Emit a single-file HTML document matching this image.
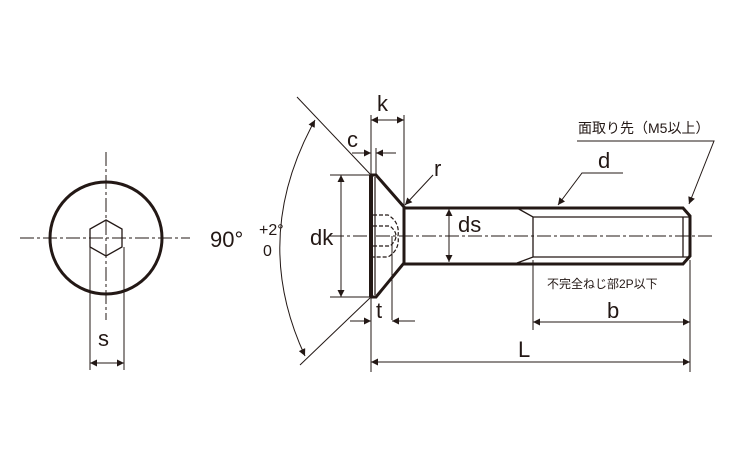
<!DOCTYPE html>
<html><head><style>body{margin:0;background:#fff}svg{display:block}text{font-family:"Liberation Sans","Noto Sans CJK JP",sans-serif;fill:#231815}</style></head><body>
<svg width="750" height="450" viewBox="0 0 750 450" xmlns="http://www.w3.org/2000/svg">
<defs><marker id="a" viewBox="0 0 10 10" refX="10" refY="5" markerWidth="9" markerHeight="7" orient="auto-start-reverse" markerUnits="userSpaceOnUse"><path d="M0,0L10,5L0,10z" fill="#231815"/></marker></defs>
<g stroke="#231815" fill="none">
<!-- left view -->
<circle cx="106" cy="238" r="56" stroke-width="3"/>
<polygon points="106,220 122,229 122,247 106,256 90,247 90,229" stroke-width="1.3"/>
<line x1="20" y1="238" x2="190" y2="238" stroke-width="1" stroke-dasharray="14,3,3,3"/>
<line x1="106" y1="152" x2="106" y2="320" stroke-width="1" stroke-dasharray="14,3,3,3"/>
<line x1="90" y1="247" x2="90" y2="370" stroke-width="1"/>
<line x1="124" y1="247" x2="124" y2="370" stroke-width="1"/>
<line x1="90" y1="363" x2="124" y2="363" stroke-width="1" marker-start="url(#a)" marker-end="url(#a)"/>
<!-- centerline -->
<line x1="330" y1="236" x2="712" y2="236" stroke-width="1" stroke-dasharray="14,3,3,3"/>
<!-- head -->
<path d="M371,175 L371,297" stroke-width="4"/>
<path d="M371,175 L376,175 L404,207 L404,263 L376,297 L371,297" stroke-width="3"/>
<path d="M375,177 L375,295" stroke-width="1.2"/>
<!-- socket hidden -->
<path d="M373,215 H388 Q400,222 398,236 Q400,250 388,257 H373 M373,226 H390 Q396,231 396,236 Q396,241 390,246 H373" stroke-width="1.2" stroke-dasharray="4,2"/>
<line x1="392" y1="236" x2="392" y2="320" stroke-width="1"/>
<!-- shank -->
<path d="M404,208 H683 L690,216 V256 L683,264 H404" stroke-width="3"/>
<path d="M517,208 L533,217 H690 M517,263 L533,257 H690 M533,217 V257 M683,217 V257" stroke-width="1.3"/>
<!-- angle lines -->
<line x1="371" y1="175" x2="297" y2="97" stroke-width="1"/>
<line x1="371" y1="297" x2="300" y2="365" stroke-width="1"/>
<path d="M315,120 Q250,238 305,356" stroke-width="1" marker-start="url(#a)" marker-end="url(#a)"/>
<!-- k -->
<line x1="371" y1="115" x2="371" y2="175" stroke-width="1"/>
<line x1="404" y1="115" x2="404" y2="207" stroke-width="1"/>
<line x1="371" y1="120" x2="404" y2="120" stroke-width="1" marker-start="url(#a)" marker-end="url(#a)"/>
<!-- c -->
<line x1="376" y1="148" x2="376" y2="175" stroke-width="1"/>
<line x1="352" y1="153" x2="371" y2="153" stroke-width="1" marker-end="url(#a)"/>
<line x1="396" y1="153" x2="376" y2="153" stroke-width="1" marker-end="url(#a)"/>
<!-- dk -->
<line x1="330" y1="175" x2="371" y2="175" stroke-width="1"/>
<line x1="330" y1="297" x2="371" y2="297" stroke-width="1"/>
<line x1="341" y1="175" x2="341" y2="297" stroke-width="1" marker-start="url(#a)" marker-end="url(#a)"/>
<!-- r -->
<line x1="433" y1="175" x2="405" y2="205" stroke-width="1" marker-end="url(#a)"/>
<!-- ds -->
<line x1="449" y1="209" x2="449" y2="262" stroke-width="1" marker-start="url(#a)" marker-end="url(#a)"/>
<!-- t -->
<line x1="371" y1="297" x2="371" y2="372" stroke-width="1"/>
<line x1="350" y1="321" x2="371" y2="321" stroke-width="1" marker-end="url(#a)"/>
<line x1="415" y1="321" x2="392" y2="321" stroke-width="1" marker-end="url(#a)"/>
<!-- d leader -->
<path d="M623,173 H582 L558,205" stroke-width="1" marker-end="url(#a)"/>
<path d="M577,141 H714 L689,204" stroke-width="1" marker-end="url(#a)"/>
<!-- b, L -->
<line x1="533" y1="260" x2="533" y2="330" stroke-width="1"/>
<line x1="690" y1="260" x2="690" y2="372" stroke-width="1"/>
<line x1="533" y1="322" x2="690" y2="322" stroke-width="1" marker-start="url(#a)" marker-end="url(#a)"/>
<line x1="371" y1="362" x2="690" y2="362" stroke-width="1" marker-start="url(#a)" marker-end="url(#a)"/>
</g>
<g font-size="22">
<text x="377" y="111">k</text>
<text x="347" y="147">c</text>
<text x="434" y="176">r</text>
<text x="310" y="245">dk</text>
<text x="458" y="232">ds</text>
<text x="376" y="318">t</text>
<text x="598" y="168">d</text>
<text x="607" y="318">b</text>
<text x="518" y="357">L</text>
<text x="98" y="346">s</text>
<text x="210" y="247">90°</text>
</g>
<text x="259" y="235" font-size="16">+2°</text>
<text x="263" y="256" font-size="16">0</text>
<text x="578" y="133" font-size="14">面取り先（M5以上）</text>
<text x="547" y="288" font-size="12">不完全ねじ部2P以下</text>
</svg>
</body></html>
